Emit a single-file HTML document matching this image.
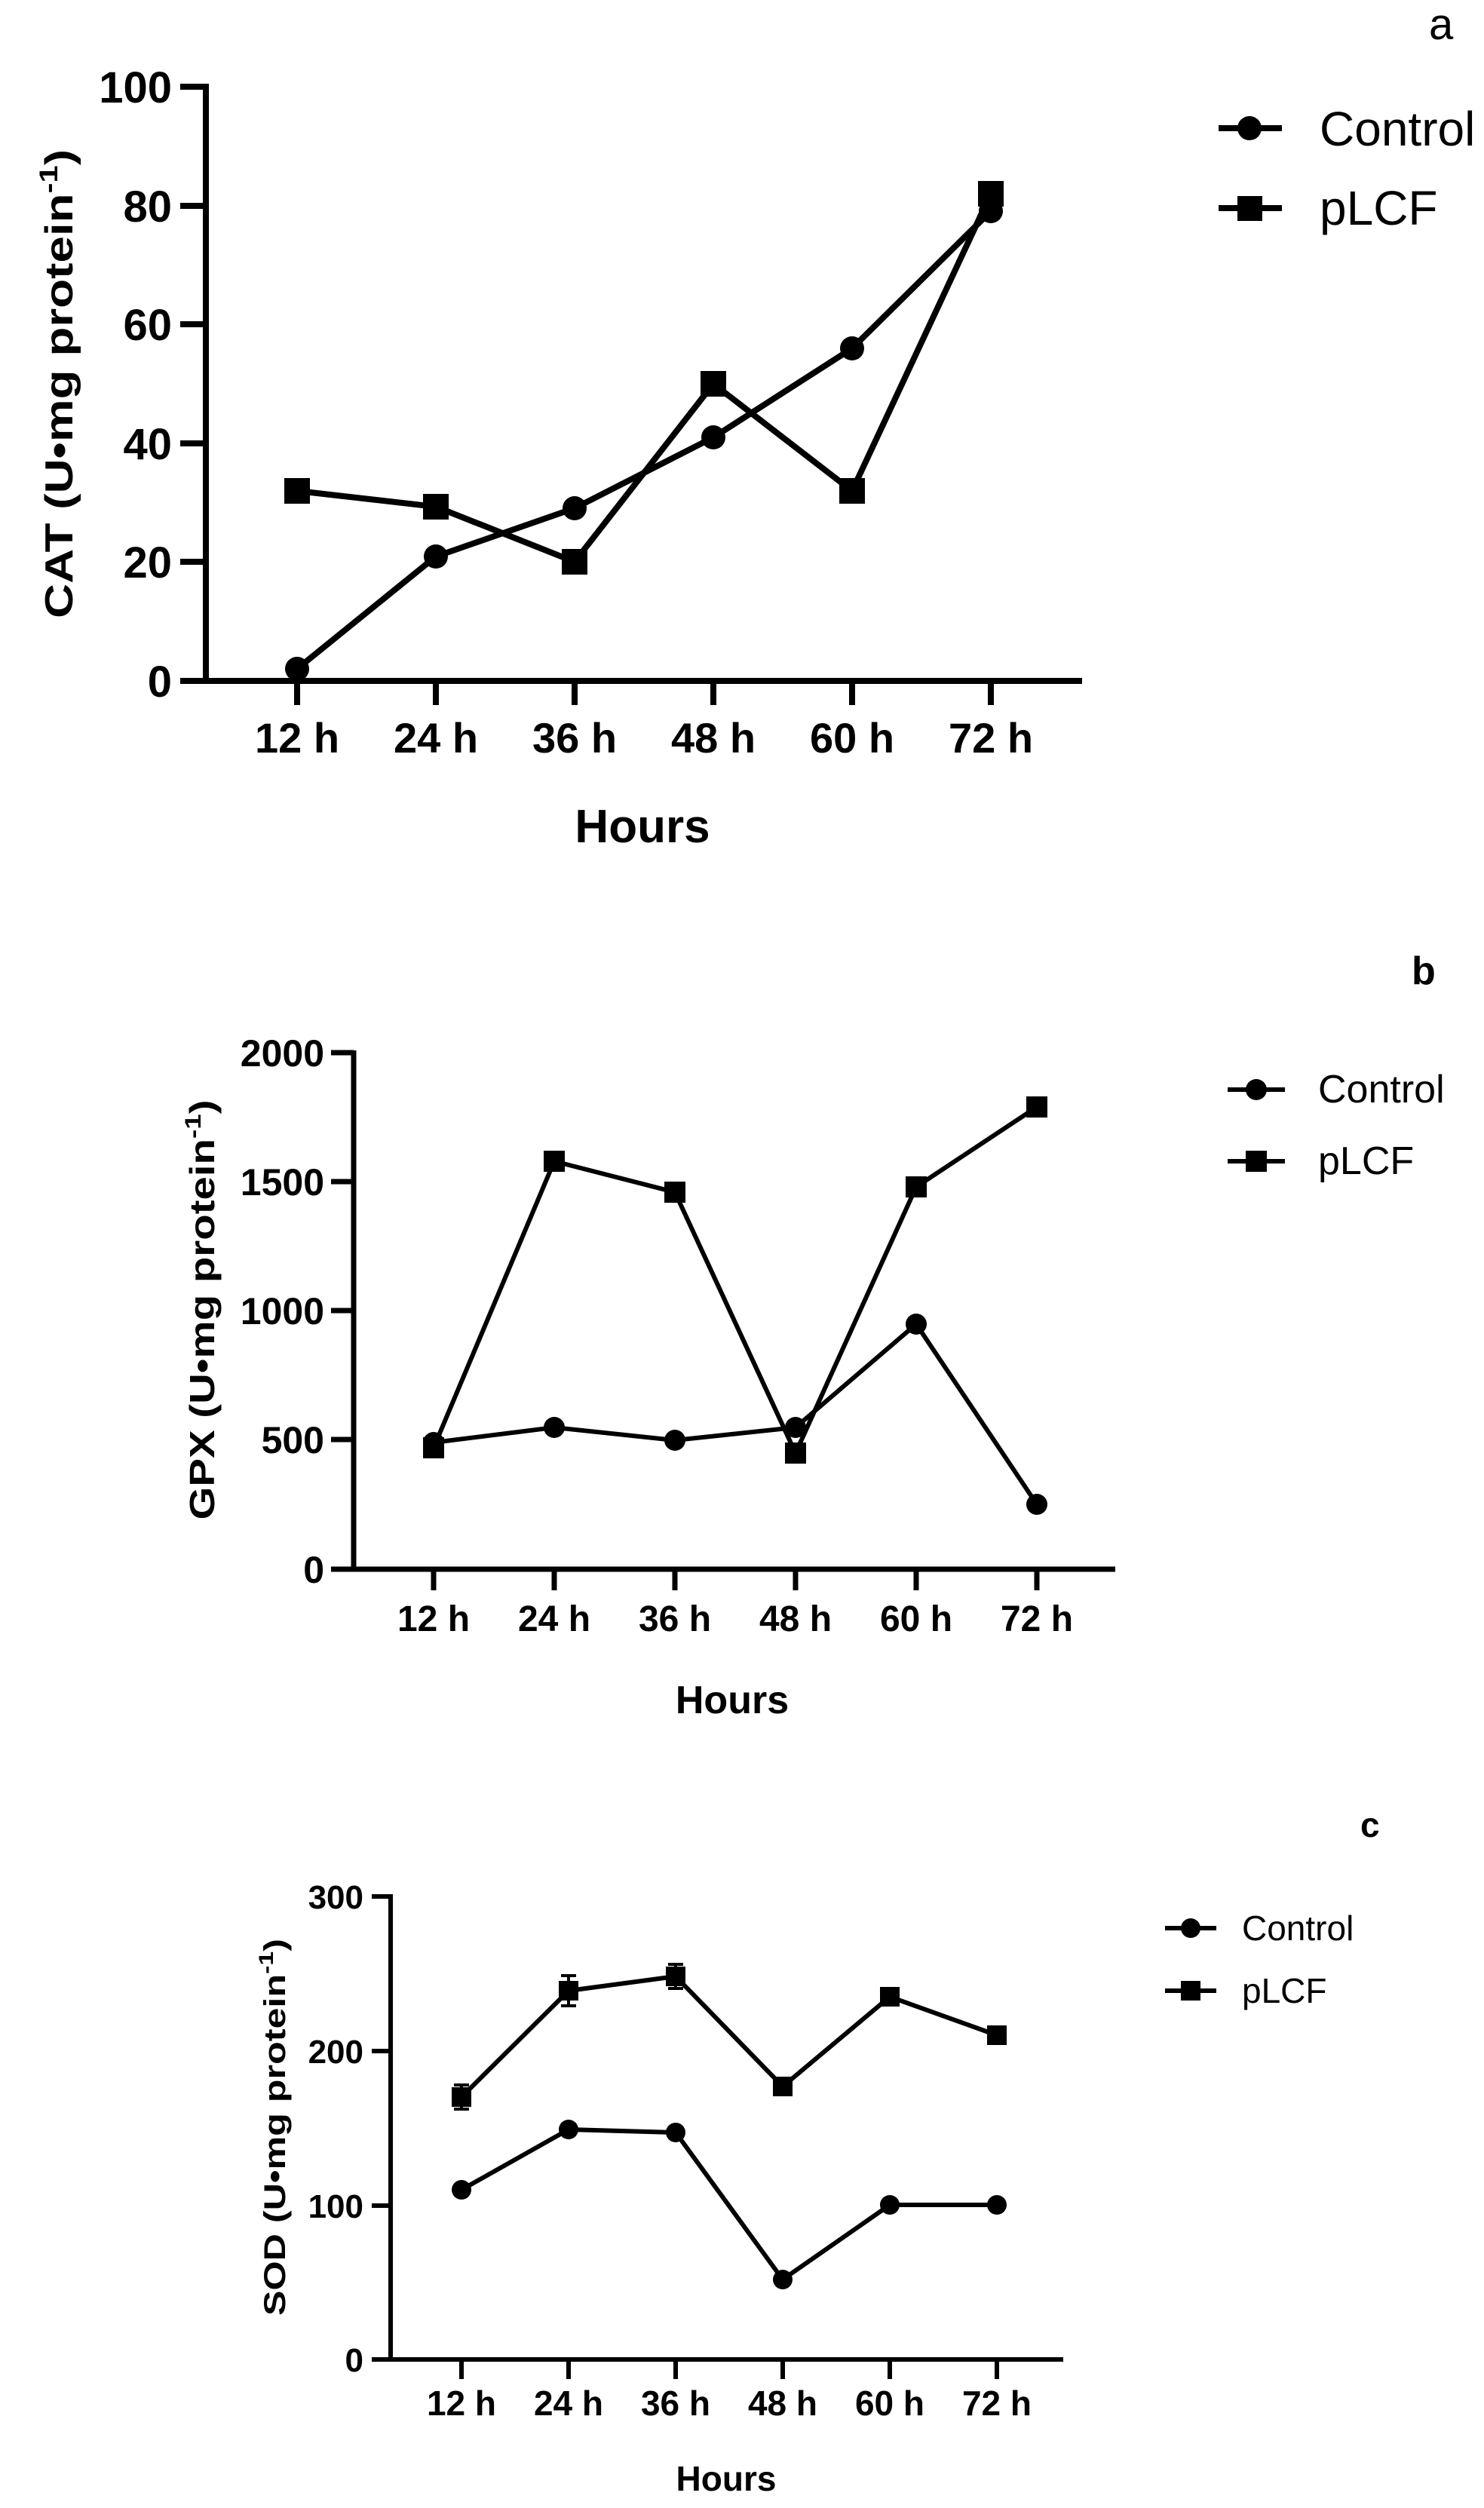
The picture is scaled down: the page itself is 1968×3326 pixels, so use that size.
<!DOCTYPE html>
<html><head><meta charset="utf-8"><style>
html,body{margin:0;padding:0;background:#fff}
svg{display:block}
text{font-family:"Liberation Sans",Arial,sans-serif;fill:#000}
</style></head><body>
<svg width="1968" height="3326" viewBox="0 0 1968 3326" xmlns="http://www.w3.org/2000/svg">
<!-- Panel a -->
<g stroke="#000" stroke-width="8" fill="none">
<line x1="273" y1="111" x2="273" y2="907"/>
<line x1="239" y1="903" x2="1435" y2="903"/>
<line x1="239" y1="115" x2="273" y2="115"/>
<line x1="239" y1="273" x2="273" y2="273"/>
<line x1="239" y1="430" x2="273" y2="430"/>
<line x1="239" y1="588" x2="273" y2="588"/>
<line x1="239" y1="745" x2="273" y2="745"/>
<line x1="394" y1="903" x2="394" y2="935"/><line x1="578" y1="903" x2="578" y2="935"/><line x1="762" y1="903" x2="762" y2="935"/><line x1="946" y1="903" x2="946" y2="935"/><line x1="1130" y1="903" x2="1130" y2="935"/><line x1="1314" y1="903" x2="1314" y2="935"/>
<polyline points="394,887 578,738 762,674 946,580 1130,462 1314,280"/>
<polyline points="394,651 578,672 762,745 946,509 1130,651 1314,257"/>
<line x1="1616" y1="170" x2="1700" y2="170"/><line x1="1616" y1="276" x2="1700" y2="276"/>
</g>
<g fill="#000">
<circle cx="394" cy="887" r="16"/><circle cx="578" cy="738" r="16"/><circle cx="762" cy="674" r="16"/><circle cx="946" cy="580" r="16"/><circle cx="1130" cy="462" r="16"/><circle cx="1314" cy="280" r="16"/>
<rect x="377" y="634" width="34" height="34"/><rect x="561" y="655" width="34" height="34"/><rect x="745" y="728" width="34" height="34"/><rect x="929" y="492" width="34" height="34"/><rect x="1113" y="634" width="34" height="34"/><rect x="1297" y="240" width="34" height="34"/>
<circle cx="1657" cy="170" r="16"/><rect x="1641" y="260" width="33" height="33"/>
</g>
<g font-weight="bold" font-size="58" text-anchor="end">
<text x="228" y="136">100</text><text x="228" y="294">80</text><text x="228" y="451">60</text><text x="228" y="609">40</text><text x="228" y="766">20</text><text x="228" y="924">0</text>
</g>
<g font-weight="bold" font-size="56" text-anchor="middle">
<text x="394" y="998">12 h</text><text x="578" y="998">24 h</text><text x="762" y="998">36 h</text><text x="946" y="998">48 h</text><text x="1130" y="998">60 h</text><text x="1314" y="998">72 h</text>
<text x="852" y="1117" font-size="62">Hours</text>
</g>
<text transform="translate(96,509) rotate(-90)" text-anchor="middle" font-weight="bold" font-size="52" textLength="622" lengthAdjust="spacingAndGlyphs">CAT (U•mg protein<tspan dy="-20" font-size="34">-1</tspan><tspan dy="20">)</tspan></text>
<text x="1750" y="193" font-size="64">Control</text>
<text x="1750" y="298" font-size="64">pLCF</text>
<text x="1895" y="52" font-size="58">a</text>

<!-- Panel b -->
<g stroke="#000" stroke-width="7" fill="none">
<line x1="469" y1="1393" x2="469" y2="2084"/>
<line x1="439" y1="2081" x2="1479" y2="2081"/>
<line x1="439" y1="1396" x2="469" y2="1396"/>
<line x1="439" y1="1567" x2="469" y2="1567"/>
<line x1="439" y1="1738" x2="469" y2="1738"/>
<line x1="439" y1="1909" x2="469" y2="1909"/>
<line x1="575" y1="2081" x2="575" y2="2109"/><line x1="735" y1="2081" x2="735" y2="2109"/><line x1="895" y1="2081" x2="895" y2="2109"/><line x1="1055" y1="2081" x2="1055" y2="2109"/><line x1="1215" y1="2081" x2="1215" y2="2109"/><line x1="1375" y1="2081" x2="1375" y2="2109"/>
<polyline stroke-width="6" points="575,1913 735,1893 895,1910 1055,1893 1215,1756 1375,1995"/>
<polyline stroke-width="6" points="575,1920 735,1540 895,1581 1055,1927 1215,1574 1375,1468"/>
<line x1="1628" y1="1445" x2="1704" y2="1445" stroke-width="6"/><line x1="1628" y1="1540" x2="1704" y2="1540" stroke-width="6"/>
</g>
<g fill="#000">
<circle cx="575" cy="1913" r="14"/><circle cx="735" cy="1893" r="14"/><circle cx="895" cy="1910" r="14"/><circle cx="1055" cy="1893" r="14"/><circle cx="1215" cy="1756" r="14"/><circle cx="1375" cy="1995" r="14"/>
<rect x="561" y="1906" width="28" height="28"/><rect x="721" y="1526" width="28" height="28"/><rect x="881" y="1567" width="28" height="28"/><rect x="1041" y="1913" width="28" height="28"/><rect x="1201" y="1560" width="28" height="28"/><rect x="1361" y="1454" width="28" height="28"/>
<circle cx="1666" cy="1445" r="14"/><rect x="1652" y="1526" width="28" height="28"/>
</g>
<g font-weight="bold" font-size="50" text-anchor="end">
<text x="430" y="1414">2000</text><text x="430" y="1585">1500</text><text x="430" y="1756">1000</text><text x="430" y="1927">500</text><text x="430" y="2099">0</text>
</g>
<g font-weight="bold" font-size="48" text-anchor="middle">
<text x="575" y="2163">12 h</text><text x="735" y="2163">24 h</text><text x="895" y="2163">36 h</text><text x="1055" y="2163">48 h</text><text x="1215" y="2163">60 h</text><text x="1375" y="2163">72 h</text>
<text x="971" y="2272" font-size="52">Hours</text>
</g>
<text transform="translate(284,1737) rotate(-90)" text-anchor="middle" font-weight="bold" font-size="46" textLength="557" lengthAdjust="spacingAndGlyphs">GPX (U•mg protein<tspan dy="-18" font-size="30">-1</tspan><tspan dy="18">)</tspan></text>
<text x="1748" y="1462" font-size="52">Control</text>
<text x="1748" y="1557" font-size="52">pLCF</text>
<text x="1872" y="1305" font-size="52" font-weight="bold">b</text>

<!-- Panel c -->
<g stroke="#000" stroke-width="6" fill="none">
<line x1="518" y1="2512" x2="518" y2="3132"/>
<line x1="493" y1="3129" x2="1410" y2="3129"/>
<line x1="493" y1="2515" x2="518" y2="2515"/>
<line x1="493" y1="2720" x2="518" y2="2720"/>
<line x1="493" y1="2925" x2="518" y2="2925"/>
<line x1="612" y1="3129" x2="612" y2="3155"/><line x1="754" y1="3129" x2="754" y2="3155"/><line x1="896" y1="3129" x2="896" y2="3155"/><line x1="1038" y1="3129" x2="1038" y2="3155"/><line x1="1180" y1="3129" x2="1180" y2="3155"/><line x1="1322" y1="3129" x2="1322" y2="3155"/>
<polyline points="612,2904 754,2824 896,2828 1038,3023 1180,2924 1322,2924"/>
<polyline points="612,2781 754,2640 896,2621 1038,2767 1180,2648 1322,2699"/>
<g stroke-width="4">
<line x1="612" y1="2765" x2="612" y2="2797"/><line x1="602" y1="2765" x2="622" y2="2765"/><line x1="602" y1="2797" x2="622" y2="2797"/>
<line x1="754" y1="2620" x2="754" y2="2660"/><line x1="744" y1="2620" x2="764" y2="2620"/><line x1="744" y1="2660" x2="764" y2="2660"/>
<line x1="896" y1="2605" x2="896" y2="2637"/><line x1="886" y1="2605" x2="906" y2="2605"/><line x1="886" y1="2637" x2="906" y2="2637"/>
</g>
<line x1="1545" y1="2557" x2="1613" y2="2557"/><line x1="1545" y1="2640" x2="1613" y2="2640"/>
</g>
<g fill="#000">
<circle cx="612" cy="2904" r="13"/><circle cx="754" cy="2824" r="13"/><circle cx="896" cy="2828" r="13"/><circle cx="1038" cy="3023" r="13"/><circle cx="1180" cy="2924" r="13"/><circle cx="1322" cy="2924" r="13"/>
<rect x="599" y="2768" width="26" height="26"/><rect x="741" y="2627" width="26" height="26"/><rect x="883" y="2608" width="26" height="26"/><rect x="1025" y="2754" width="26" height="26"/><rect x="1167" y="2635" width="26" height="26"/><rect x="1309" y="2686" width="26" height="26"/>
<circle cx="1579" cy="2557" r="13"/><rect x="1566" y="2627" width="26" height="26"/>
</g>
<g font-weight="bold" font-size="44" text-anchor="end">
<text x="482" y="2531">300</text><text x="482" y="2736">200</text><text x="482" y="2941">100</text><text x="482" y="3145">0</text>
</g>
<g font-weight="bold" font-size="46" text-anchor="middle">
<text x="612" y="3203">12 h</text><text x="754" y="3203">24 h</text><text x="896" y="3203">36 h</text><text x="1038" y="3203">48 h</text><text x="1180" y="3203">60 h</text><text x="1322" y="3203">72 h</text>
<text x="963" y="3303" font-size="46">Hours</text>
</g>
<text transform="translate(378,2821) rotate(-90)" text-anchor="middle" font-weight="bold" font-size="40" textLength="500" lengthAdjust="spacingAndGlyphs">SOD (U•mg protein<tspan dy="-16" font-size="27">-1</tspan><tspan dy="16">)</tspan></text>
<text x="1647" y="2573" font-size="46">Control</text>
<text x="1647" y="2656" font-size="46">pLCF</text>
<text x="1804" y="2436" font-size="46" font-weight="bold">c</text>
</svg>
</body></html>
